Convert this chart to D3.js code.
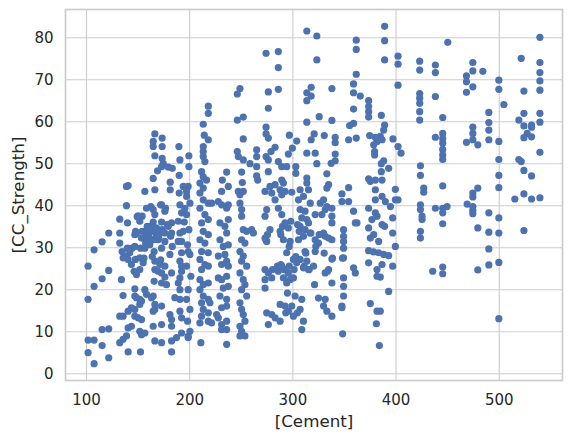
<!DOCTYPE html>
<html><head><meta charset="utf-8">
<script src="https://cdn.jsdelivr.net/npm/d3@7"></script>
<style>body{margin:0;background:#fff}svg{display:block}</style>
</head><body><svg id="c" width="572" height="441"></svg>
<script>
const cement = [
166.7,173.8,165.1,165.1,173.8,190.0,166.7,173.8,191.0,174.8,179.7,173.2,199.7,
199.7,169.3,190.3,165.1,140.8,139.2,157.0,166.7,181.6,181.6,194.2,199.0,190.3,
197.5,139.2,150.5,154.4,158.6,162.8,165.1,166.7,173.2,176.4,191.0,192.6,195.8,
132.7,140.2,152.1,165.1,173.2,182.9,189.4,195.2,122.0,132.7,147.3,148.9,157.0,
160.2,165.1,168.3,171.6,176.4,182.9,191.0,194.2,158.6,164.1,169.9,176.4,192.6,
107.8,132.7,135.0,140.2,142.4,137.6,147.3,157.0,166.0,173.2,181.3,192.6,199.0,
147.9,152.1,155.4,166.7,171.6,176.4,191.0,192.6,102.0,122.0,115.6,107.8,134.3,
146.6,148.9,152.1,166.7,169.9,173.2,176.4,182.9,191.0,192.6,166.0,173.2,178.0,
189.4,147.3,157.0,191.0,102.0,135.9,147.3,148.9,153.8,158.6,165.1,166.7,173.2,
186.1,191.0,144.0,147.3,152.1,140.8,132.7,135.9,165.1,166.7,181.3,182.9,191.0,
147.3,150.5,153.8,192.6,115.6,122.0,140.8,144.0,152.1,153.8,157.0,165.1,173.2,
182.9,192.6,199.0,102.0,107.8,132.7,135.9,139.2,166.7,173.2,182.9,187.7,102.0,
115.6,140.8,152.8,182.9,122.0,107.8,161.8,158.6,168.3,153.8,140.8,144.0,136.0,
161.8,179.7,189.4,163.5,152.1,115.6,
274.5,286.4,286.4,249.2,246.6,276.7,286.4,276.7,218.5,218.5,246.6,252.4,213.6,
274.5,274.5,276.7,214.6,218.5,252.4,297.1,304.2,213.6,213.6,213.6,215.2,246.6,
247.6,252.4,265.4,265.4,274.5,276.7,283.2,279.3,258.9,286.4,289.7,294.5,296.1,
300.0,303.3,303.3,212.0,213.6,216.8,210.4,213.6,236.3,232.1,237.9,250.8,251.5,
247.6,265.4,265.4,266.4,276.7,278.3,283.2,289.7,291.3,288.1,299.4,307.5,231.4,
197.4,
200.7,197.4,199.7,198.4,200.7,197.4,201.6,199.0,197.4,200.7,198.4,200.7,199.0,
210.4,213.6,210.4,215.2,212.0,213.6,210.4,215.2,212.0,210.4,215.2,212.0,210.4,
213.6,210.4,213.6,212.0,213.6,212.0,210.4,211.3,218.5,218.5,218.5,218.5,218.5,
218.5,218.5,218.5,218.5,221.7,228.2,231.4,236.3,237.9,229.8,234.6,236.3,237.9,
229.8,233.0,237.9,228.2,234.6,236.3,231.4,237.9,228.2,231.4,236.3,233.0,237.9,
229.8,236.3,231.4,236.3,221.7,228.2,231.4,236.3,236.3,231.4,226.6,220.1,236.3,
249.2,252.4,249.2,250.8,250.8,252.4,255.7,260.5,262.2,250.8,254.0,249.2,252.4,
250.8,255.7,249.2,252.4,254.0,250.8,255.7,249.2,250.8,252.4,254.0,249.2,250.8,
254.0,249.2,273.5,280.0,275.1,273.5,278.3,273.5,275.1,273.5,276.7,273.5,273.5,
280.0,275.1,280.0,276.7,283.2,283.2,289.7,292.9,286.4,289.7,292.9,296.1,288.1,
291.3,297.8,294.5,301.0,289.7,292.9,286.4,296.1,297.8,291.3,301.0,294.5,288.1,
292.9,299.4,302.6,301.0,288.1,296.1,305.9,310.7,315.6,307.5,312.3,309.1,314.0,
315.6,307.5,312.3,317.2,310.7,305.9,312.3,307.5,304.2,314.0,310.7,315.6,309.1,
307.5,310.7,309.1,
314.0,323.7,323.7,361.9,361.9,389.4,389.4,389.4,402.4,402.4,402.4,423.4,423.4,
361.9,359.3,359.3,365.8,338.3,318.2,318.2,314.0,314.0,373.9,373.9,373.9,373.9,
359.3,386.2,326.0,338.3,314.0,359.3,355.5,389.4,388.5,423.4,423.4,423.4,423.4,
423.4,321.1,330.9,318.2,341.5,341.5,354.5,361.9,374.9,380.4,385.2,382.0,386.9,
378.8,379.7,379.7,397.5,402.4,405.3,322.1,314.0,341.5,341.5,337.6,323.7,388.5,
386.2,393.3,424.1,424.1,427.3,427.3,333.4,335.1,333.4,354.5,348.0,373.9,375.5,
380.4,386.2,386.9,380.4,399.8,314.0,314.0,
317.3,322.1,327.0,330.2,331.8,328.6,333.4,338.3,338.3,330.2,331.8,322.1,325.3,
335.1,338.3,322.1,338.3,349.6,320.5,335.1,331.8,361.0,359.3,338.3,321.5,325.3,
331.8,330.2,333.4,338.3,348.0,354.5,359.3,361.0,362.6,338.3,349.6,349.6,349.6,
349.6,349.6,349.6,349.6,348.0,348.0,348.7,373.9,380.4,380.4,382.0,377.1,386.9,
390.1,395.0,397.2,386.9,389.4,373.9,378.8,375.5,383.6,397.2,399.8,373.9,378.8,
383.6,388.5,393.3,373.9,382.0,386.9,397.2,382.0,385.2,393.3,375.5,382.0,385.2,
381.4,384.3,399.8,402.4,424.1,424.1,425.7,425.7,424.1,424.1,
450.6,539.9,438.6,438.6,474.9,474.9,484.6,468.7,468.7,474.9,468.7,500.1,500.1,
521.8,539.9,539.9,539.9,539.9,524.4,438.6,505.0,490.4,490.4,490.4,490.4,445.7,
438.6,445.7,445.7,445.7,445.7,445.7,445.7,474.9,474.9,474.9,468.7,479.7,500.1,
500.1,500.1,500.1,524.4,519.5,524.4,531.8,531.8,527.6,524.4,531.8,539.9,539.9,
539.9,519.5,521.8,524.4,531.8,445.7,479.7,474.9,524.4,
438.6,445.7,449.9,445.7,445.7,436.0,445.7,445.7,474.9,469.4,474.9,474.9,474.9,
490.4,479.7,490.4,500.1,500.1,490.4,479.7,490.4,500.1,500.1,515.6,531.8,539.9,
524.4,
285.5,288.8,292.0,296.9,301.7,280.7,295.2,304.9,293.6,290.4,298.5,305.0,306.6,
317.9,326.0,322.7,330.8,313.0,303.3,275.8,274.2,288.8,296.9,311.4,316.3,334.1,
338.9,348.6,149.6,172.3,177.1,148.0,154.4,159.3,164.2,173.9,178.7,160.9,165.8,
170.6,157.7,152.8,144.7,182.0,183.6,156.1,164.2,172.3,183.6
];
const strength = [
57.0,56.0,55.2,54.0,54.0,54.0,51.8,51.2,50.8,50.0,49.1,49.2,51.8,
49.2,48.2,47.1,46.4,44.7,44.5,43.3,43.7,45.5,43.7,44.5,44.5,42.9,
42.1,39.9,37.5,37.4,39.3,39.7,39.0,37.8,40.1,38.6,40.1,38.2,39.3,
36.7,35.8,36.2,36.0,36.0,35.8,36.2,36.0,33.4,33.4,33.0,33.4,33.8,
33.4,33.8,33.0,33.4,33.4,33.4,33.4,33.8,31.4,31.8,31.8,31.4,31.4,
29.4,31.0,29.0,29.8,28.7,27.9,30.2,29.8,29.0,29.8,28.3,28.7,29.0,
27.1,27.5,26.3,26.7,25.9,25.5,26.7,25.5,25.5,24.5,22.5,20.7,22.3,
24.3,23.5,24.7,24.7,24.3,23.9,22.9,23.9,22.7,24.3,21.9,21.5,21.1,
21.5,20.1,19.9,19.9,17.6,18.5,18.4,18.0,17.2,18.8,18.4,16.4,16.0,
18.0,17.6,15.6,15.2,16.4,14.8,13.6,13.6,14.8,15.2,14.0,12.8,14.8,
13.6,13.2,12.8,13.2,10.4,10.6,10.8,11.2,10.0,9.2,9.6,11.2,11.6,
11.2,9.6,8.8,7.9,7.9,7.3,8.1,8.9,7.7,7.3,7.7,8.5,4.9,
6.6,5.1,5.1,5.1,3.7,2.3,35.0,32.6,34.6,32.2,27.1,25.9,27.5,
30.6,35.0,31.4,18.0,17.6,31.3,
76.2,76.6,72.8,67.8,66.5,67.0,67.6,63.1,63.6,61.9,60.3,61.0,59.3,
58.6,57.0,56.0,56.7,55.6,55.8,56.7,55.3,54.0,52.8,51.6,50.4,52.8,
51.6,50.8,53.2,51.6,51.6,50.8,53.8,52.8,49.9,50.4,49.2,49.2,52.2,
53.6,49.2,47.6,48.0,46.8,46.0,45.3,44.1,47.9,46.0,44.5,47.9,45.4,
43.3,49.2,47.0,46.0,48.0,44.5,44.9,46.0,45.3,43.7,43.1,43.7,43.3,
43.3,
40.5,37.8,34.2,30.6,28.3,25.5,23.1,19.9,17.6,15.2,12.4,10.0,8.5,
42.9,41.3,39.3,37.8,35.8,33.8,31.8,31.0,29.0,27.1,25.9,24.7,22.3,
21.1,19.9,18.4,16.8,15.2,13.6,12.0,7.3,40.5,36.6,33.0,28.7,25.5,
21.5,17.6,14.4,12.4,40.5,40.9,40.1,39.3,40.1,35.8,35.0,33.4,36.6,
31.8,30.2,30.6,27.9,28.3,26.7,25.9,25.5,22.7,22.3,23.1,20.3,20.7,
18.4,17.6,15.6,16.0,12.0,13.2,11.6,12.4,10.4,10.4,14.0,16.8,6.9,
42.5,43.3,40.5,39.0,37.4,34.2,33.8,34.2,33.4,31.8,31.0,29.0,27.9,
26.7,25.5,23.9,22.3,21.1,19.9,18.4,16.8,15.2,14.0,12.4,11.2,10.0,
8.9,8.9,43.3,42.9,39.0,37.4,34.2,32.2,31.4,24.7,23.9,22.3,20.3,
22.7,14.4,14.0,11.6,13.2,41.3,42.5,43.3,39.3,37.8,35.8,34.6,33.8,
31.8,31.4,28.7,27.1,25.5,24.7,24.3,23.9,22.3,22.7,22.7,21.5,16.4,
16.0,16.0,18.4,13.6,12.4,14.8,41.3,42.1,43.7,39.0,38.6,37.0,36.6,
35.8,35.0,34.2,33.4,32.6,31.8,29.0,27.1,26.3,26.7,25.1,24.7,17.6,
15.2,12.4,10.4,
81.5,80.3,74.6,79.3,77.1,82.6,79.2,74.6,75.5,73.6,68.6,74.3,72.2,
71.2,68.9,66.8,66.0,67.8,68.1,66.0,66.8,64.9,64.9,63.5,62.3,61.0,
62.9,61.4,61.1,60.2,59.8,59.5,59.0,59.1,57.9,66.6,65.5,64.3,62.3,
60.3,57.0,56.6,55.6,56.2,54.9,55.6,56.0,56.6,56.2,56.4,55.2,55.6,
54.4,52.8,52.0,55.8,54.0,52.4,52.4,52.4,52.2,50.6,50.0,49.9,50.6,
49.9,48.8,49.4,47.1,44.1,43.1,47.5,44.9,44.1,44.2,42.7,46.3,45.7,
46.0,48.0,46.0,43.7,43.8,46.5,45.3,
40.5,37.8,40.5,41.3,39.0,37.8,39.7,39.3,35.8,33.4,32.6,31.8,31.0,
32.2,31.8,29.0,27.2,27.5,25.5,24.7,23.9,23.9,25.1,21.5,21.1,17.9,
17.6,16.0,14.8,13.6,40.9,40.9,38.6,35.8,35.8,37.4,34.2,32.6,31.4,
29.8,22.7,20.7,18.4,16.0,15.6,9.4,39.3,41.3,38.2,37.4,36.6,42.1,
40.9,39.7,37.0,35.4,35.0,34.6,33.0,32.2,31.4,33.4,30.2,29.2,28.9,
28.7,28.3,28.0,26.3,24.7,25.9,25.5,23.1,22.9,19.5,16.6,14.8,14.8,
11.8,6.6,41.3,41.3,40.1,39.0,37.4,36.6,33.8,32.2,
78.8,80.0,73.4,71.6,74.0,72.0,71.9,70.8,69.4,68.2,66.9,69.8,67.6,
75.0,74.0,71.6,69.6,67.4,67.2,65.9,64.0,62.1,59.7,57.9,55.6,60.9,
56.2,57.1,55.9,54.8,53.3,52.0,50.9,58.6,57.1,55.6,55.0,54.4,55.2,
50.9,47.1,44.2,61.9,60.3,58.9,59.1,58.6,57.1,56.1,56.3,61.9,59.8,
52.6,50.9,50.4,48.3,47.0,44.6,44.1,42.9,42.7,
39.3,39.3,39.7,38.2,35.6,24.3,25.3,23.7,42.0,40.3,39.7,38.8,38.0,
38.2,34.6,33.6,37.0,33.4,29.6,24.6,25.8,26.4,13.0,41.5,41.5,41.8,
34.0,
25.5,25.9,24.7,25.5,24.7,24.7,19.1,14.4,14.4,35.0,36.2,35.4,33.8,
33.4,33.0,30.2,28.6,28.6,27.8,33.0,31.8,33.0,30.2,25.5,24.7,24.3,
27.4,27.4,37.3,40.1,39.3,33.8,33.8,35.0,34.6,34.2,35.4,32.6,31.8,
32.2,31.0,29.8,29.8,32.6,30.2,27.4,27.8,27.0,48.8
];
const xTicks = [100, 200, 300, 400, 500];
const yTicks = [0, 10, 20, 30, 40, 50, 60, 70, 80];
const xLabel = "[Cement]";
const yLabel = "[CC_Strength]";

const box = {left: 65.5, right: 562.5, top: 9.5, bottom: 380.5};
const FONT = "'DejaVu Sans', sans-serif";
const TXT = "#262626", GRID = "#cccccc", DOT = "#4c72b0";

function padded(ext) { const d = (ext[1] - ext[0]) * 0.05; return [ext[0] - d, ext[1] + d]; }
const n = Math.min(cement.length, strength.length);
const pts = d3.range(n).map(i => ({c: cement[i], s: strength[i]}));

const x = d3.scaleLinear().domain(padded(d3.extent(cement))).range([box.left, box.right]);
const y = d3.scaleLinear().domain(padded(d3.extent(strength))).range([box.bottom, box.top]);

const svg = d3.select("#c");
svg.append("rect").attr("width", 572).attr("height", 441).attr("fill", "#fff");

const gx = svg.append("g").attr("transform", `translate(0,${box.bottom})`)
  .call(d3.axisBottom(x).tickValues(xTicks).tickFormat(d3.format("d"))
        .tickSize(-(box.bottom - box.top)).tickPadding(13.5));
const gy = svg.append("g").attr("transform", `translate(${box.left},0)`)
  .call(d3.axisLeft(y).tickValues(yTicks).tickFormat(d3.format("d"))
        .tickSize(-(box.right - box.left)).tickPadding(12));
[gx, gy].forEach(g => {
  g.select(".domain").remove();
  g.selectAll(".tick line").attr("stroke", GRID).attr("stroke-width", 1.1);
  g.selectAll(".tick text").attr("fill", TXT).style("font-family", FONT).style("font-size", "15px");
});

svg.append("g").selectAll("circle").data(pts).join("circle")
  .attr("cx", d => x(d.c)).attr("cy", d => y(d.s)).attr("r", 3.6)
  .attr("fill", DOT);

svg.append("rect").attr("x", box.left).attr("y", box.top)
  .attr("width", box.right - box.left).attr("height", box.bottom - box.top)
  .attr("fill", "none").attr("stroke", GRID).attr("stroke-width", 1.7);

svg.append("text").attr("x", (box.left + box.right) / 2).attr("y", 427)
  .attr("text-anchor", "middle").attr("fill", TXT)
  .style("font-family", FONT).style("font-size", "16.7px").text(xLabel);
svg.append("text").attr("transform", `translate(23.5,${(box.top + box.bottom) / 2}) rotate(-90)`)
  .attr("text-anchor", "middle").attr("fill", TXT)
  .style("font-family", FONT).style("font-size", "16.7px").text(yLabel);
</script>
</body></html>
